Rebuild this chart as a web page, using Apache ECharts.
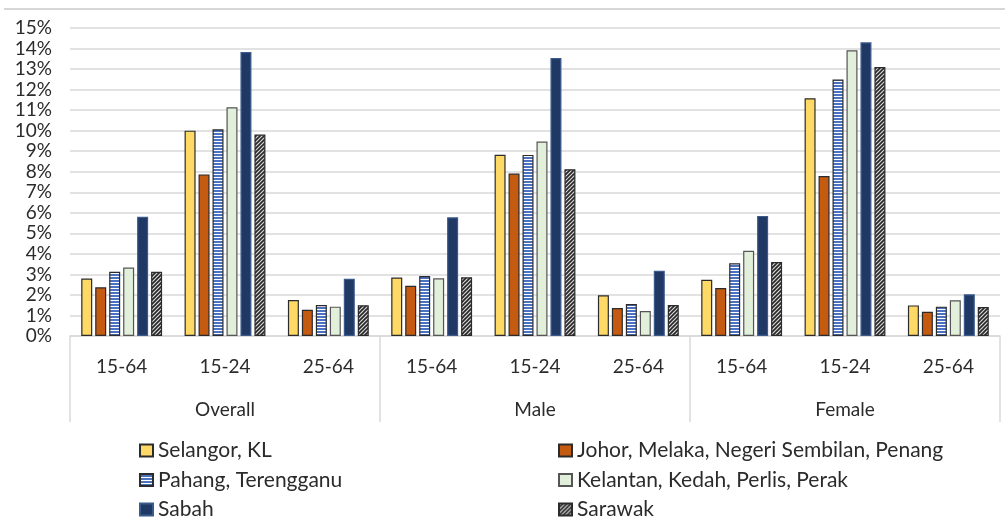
<!DOCTYPE html>
<html>
<head>
<meta charset="utf-8">
<script src="https://cdn.jsdelivr.net/npm/echarts@6/dist/echarts.min.js"></script>
<style>
  html, body { margin: 0; padding: 0; background: #fff; }
  #chart { width: 1005px; height: 517px; }
</style>
</head>
<body>
<div id="chart"></div>
<script>
// age groups under each gender group
const ageGroups = ["15-64", "15-24", "25-64", "15-64", "15-24", "25-64", "15-64", "15-24", "25-64"];
const genderGroups = ["Overall", "Male", "Female"];
const yTicks = [0, 15, 1];

// unemployment rate in %, one value per age group
const selangor = [2.8, 10.0, 1.75, 2.85, 8.83, 1.98, 2.74, 11.58, 1.49];
const johor = [2.37, 7.87, 1.28, 2.45, 7.91, 1.36, 2.34, 7.79, 1.18];
const pahang = [3.13, 10.07, 1.51, 2.92, 8.82, 1.56, 3.54, 12.49, 1.43];
const kelantan = [3.33, 11.14, 1.43, 2.81, 9.47, 1.22, 4.15, 13.92, 1.74];
const sabah = [5.81, 13.83, 2.79, 5.78, 13.54, 3.18, 5.85, 14.3, 2.03];
const sarawak = [3.13, 9.81, 1.5, 2.86, 8.12, 1.51, 3.6, 13.1, 1.41];

const FONT = 'Lato, "Open Sans", sans-serif';
const TEXT = "#2b2b2b";

// horizontal blue stripes
function stripePattern() {
  const c = document.createElement("canvas");
  c.width = 4; c.height = 3;
  const ctx = c.getContext("2d");
  ctx.fillStyle = "#ffffff";
  ctx.fillRect(0, 0, 4, 3);
  ctx.fillStyle = "#4a72c0";
  ctx.fillRect(0, 1, 4, 2);
  return c;
}

// dark diagonal hatch
function hatchPattern() {
  const c = document.createElement("canvas");
  c.width = 4; c.height = 4;
  const ctx = c.getContext("2d");
  ctx.fillStyle = "#d8d8d8";
  ctx.fillRect(0, 0, 4, 4);
  ctx.strokeStyle = "#262626";
  ctx.lineWidth = 1.6;
  ctx.beginPath();
  ctx.moveTo(-1, 5); ctx.lineTo(5, -1);
  ctx.moveTo(-1, 1); ctx.lineTo(1, -1);
  ctx.moveTo(3, 5); ctx.lineTo(5, 3);
  ctx.stroke();
  return c;
}

const chart = echarts.init(document.getElementById("chart"));

function bar(name, data, color, border) {
  return {
    name: name,
    type: "bar",
    data: data,
    barWidth: 11,
    barGap: "27%",
    itemStyle: { color: color, borderColor: border || "#2b2b2b", borderWidth: 1.2 },
    emphasis: { disabled: true }
  };
}

const series = [
  bar("Selangor, KL", selangor, "#ffd966"),
  bar("Johor, Melaka, Negeri Sembilan, Penang", johor, "#c55a11"),
  bar("Pahang, Terengganu", pahang, { image: stripePattern(), repeat: "repeat" }),
  bar("Kelantan, Kedah, Perlis, Perak", kelantan, "#e2efda", "#555555"),
  bar("Sabah", sabah, "#203864", "#3b5a8c"),
  bar("Sarawak", sarawak, { image: hatchPattern(), repeat: "repeat" })
];

const legendBase = {
  orient: "vertical",
  top: 435,
  height: 100,
  itemWidth: 13,
  itemHeight: 12,
  itemGap: 8.5,
  icon: "rect",
  textStyle: { fontFamily: FONT, fontSize: 21, lineHeight: 20, color: TEXT },
  selectedMode: false
};

chart.setOption({
  animation: false,
  textStyle: { fontFamily: FONT },
  grid: { left: 70, right: 5, top: 28, bottom: 181 },
  legend: [
    Object.assign({ left: 134, data: ["Selangor, KL", "Pahang, Terengganu", "Sabah"] }, legendBase),
    Object.assign({ left: 553, data: ["Johor, Melaka, Negeri Sembilan, Penang", "Kelantan, Kedah, Perlis, Perak", "Sarawak"] }, legendBase)
  ],
  xAxis: [
    {
      type: "category",
      data: ageGroups,
      position: "bottom",
      axisLine: { lineStyle: { color: "#d9d9d9", width: 1.5 } },
      axisTick: { show: false },
      axisLabel: { interval: 0, margin: 21, fontSize: 19, color: TEXT, fontFamily: FONT }
    },
    {
      type: "category",
      data: genderGroups,
      position: "bottom",
      axisLine: { show: false },
      axisTick: { show: true, length: 86, lineStyle: { color: "#d9d9d9", width: 1.5 } },
      axisLabel: { interval: 0, margin: 64, fontSize: 19, color: TEXT, fontFamily: FONT },
      splitLine: { show: false }
    }
  ],
  yAxis: {
    type: "value",
    min: yTicks[0],
    max: yTicks[1],
    interval: yTicks[2],
    axisLine: { show: false },
    axisTick: { show: false },
    axisLabel: { formatter: "{value}%", margin: 18, fontSize: 19, color: TEXT, fontFamily: FONT },
    splitLine: { lineStyle: { color: "#d9d9d9", width: 1.5 } }
  },
  graphic: [
    { type: "line", shape: { x1: 4, y1: 9, x2: 1005, y2: 9 }, style: { stroke: "#c8c8c8", lineWidth: 1.5 } }
  ],
  series: series
});
</script>
</body>
</html>
